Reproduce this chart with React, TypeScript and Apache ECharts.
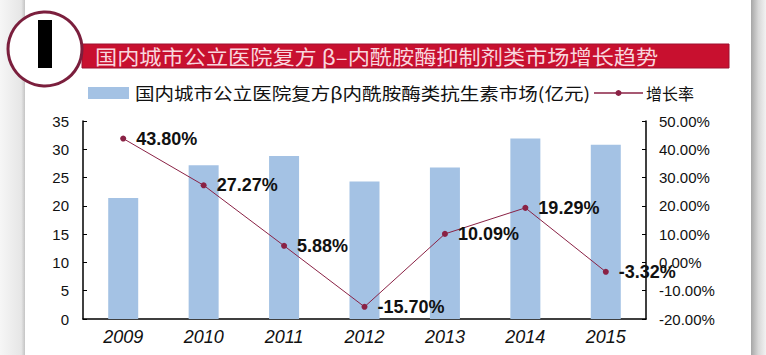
import React, { useEffect, useRef } from "react";
import * as echarts from "echarts";

const years = ["2009", "2010", "2011", "2012", "2013", "2014", "2015"];
const marketValues = [21.4, 27.2, 28.8, 24.3, 26.8, 31.9, 30.8];
const growthRates = [43.8, 27.27, 5.88, -15.7, 10.09, 19.29, -3.32];
const leftAxisRange = { min: 0, max: 35, interval: 5 };
const rightAxisRange = { min: -20, max: 50, interval: 10 };

const titleText = "国内城市公立医院复方 β–内酰胺酶抑制剂类市场增长趋势";
const barName = "国内城市公立医院复方β内酰胺酶类抗生素市场(亿元)";
const lineName = "增长率";

const LATIN = "'Liberation Sans', Arial, sans-serif";
const CJK = "'Noto Sans CJK SC', 'Noto Sans', sans-serif";
const BAR_COLOR = "#a4c2e4";
const LINE_COLOR = "#8a2245";

export default function App() {
  const ref = useRef<HTMLDivElement>(null);
  useEffect(() => {
    document.body.style.margin = "0";
    const chart = echarts.init(ref.current!, null, { renderer: "svg" });
    chart.setOption({
      animation: false,
      backgroundColor: "#ffffff",
      grid: { left: 83, right: 120, top: 121, bottom: 36 },
      xAxis: {
        type: "category",
        data: years,
        axisLine: { lineStyle: { color: "#000", width: 1.5 } },
        axisTick: { show: false },
        axisLabel: {
          fontFamily: LATIN,
          fontSize: 18,
          fontStyle: "italic",
          color: "#111",
          margin: 9,
        },
      },
      yAxis: [
        {
          type: "value",
          min: leftAxisRange.min,
          max: leftAxisRange.max,
          interval: leftAxisRange.interval,
          splitLine: { show: false },
          axisLine: { show: true, lineStyle: { color: "#000", width: 1.5 } },
          axisTick: { show: true, inside: true, length: 4, lineStyle: { color: "#000" } },
          axisLabel: { fontFamily: LATIN, fontSize: 15, color: "#111", margin: 14 },
        },
        {
          type: "value",
          min: rightAxisRange.min,
          max: rightAxisRange.max,
          interval: rightAxisRange.interval,
          splitLine: { show: false },
          axisLine: { show: true, lineStyle: { color: "#000", width: 1.5 } },
          axisTick: { show: true, inside: true, length: 4, lineStyle: { color: "#000" } },
          axisLabel: {
            fontFamily: LATIN,
            fontSize: 15,
            color: "#111",
            margin: 13,
            formatter: (v: number) => v.toFixed(2) + "%",
          },
        },
      ],
      series: [
        {
          name: barName,
          type: "bar",
          data: marketValues,
          barWidth: 30,
          itemStyle: { color: BAR_COLOR },
          yAxisIndex: 0,
        },
        {
          name: lineName,
          type: "line",
          data: growthRates,
          yAxisIndex: 1,
          symbol: "circle",
          symbolSize: 6,
          lineStyle: { color: LINE_COLOR, width: 1 },
          itemStyle: { color: LINE_COLOR },
          label: {
            show: true,
            position: "right",
            distance: 10,
            fontFamily: LATIN,
            fontSize: 18,
            fontWeight: "bold",
            color: "#111",
            formatter: (p: any) => Number(p.value).toFixed(2) + "%",
          },
          z: 5,
        },
      ],
      graphic: [
        {
          type: "rect",
          shape: { x: 0, y: 0, width: 25, height: 355 },
          style: {
            fill: new echarts.graphic.LinearGradient(0, 0, 1, 0, [
              { offset: 0, color: "#f6f6f6" },
              { offset: 0.85, color: "#e6e6e6" },
              { offset: 1, color: "#c4c4c4" },
            ]),
          },
          silent: true,
        },
        {
          type: "rect",
          shape: { x: 751, y: 0, width: 15, height: 355 },
          style: {
            fill: new echarts.graphic.LinearGradient(0, 0, 1, 0, [
              { offset: 0, color: "#a6a6a6" },
              { offset: 0.5, color: "#d8d8d8" },
              { offset: 1, color: "#f2f2f2" },
            ]),
          },
          silent: true,
        },
        {
          type: "rect",
          shape: { x: 82, y: 44, width: 647, height: 24 },
          style: { fill: "#c8102f", stroke: "#9e1030", lineWidth: 1 },
          silent: true,
        },
        {
          type: "text",
          x: 95,
          y: 56,
          scaleX: 1.11,
          style: {
            text: titleText,
            fontFamily: CJK,
            fontSize: 20,
            fill: "#f8d6de",
            textAlign: "left",
            textVerticalAlign: "middle",
          },
          silent: true,
        },
        {
          type: "circle",
          shape: { cx: 45, cy: 49, r: 37 },
          style: { fill: "#ffffff", stroke: "#7b1f3d", lineWidth: 3 },
          silent: true,
        },
        {
          type: "rect",
          shape: { x: 38, y: 20, width: 14, height: 48 },
          style: { fill: "#000000" },
          silent: true,
        },
        {
          type: "rect",
          shape: { x: 88, y: 87, width: 41, height: 12 },
          style: { fill: BAR_COLOR },
          silent: true,
        },
        {
          type: "text",
          x: 135,
          y: 93,
          scaleX: 1.15,
          style: {
            text: barName,
            fontFamily: CJK,
            fontSize: 17,
            fill: "#111",
            textAlign: "left",
            textVerticalAlign: "middle",
          },
          silent: true,
        },
        {
          type: "line",
          shape: { x1: 594, y1: 93, x2: 643, y2: 93 },
          style: { stroke: LINE_COLOR, lineWidth: 1.5 },
          silent: true,
        },
        {
          type: "circle",
          shape: { cx: 618.5, cy: 93, r: 3 },
          style: { fill: LINE_COLOR },
          silent: true,
        },
        {
          type: "text",
          x: 646,
          y: 93,
          style: {
            text: lineName,
            fontFamily: CJK,
            fontSize: 16,
            fill: "#111",
            textAlign: "left",
            textVerticalAlign: "middle",
          },
          silent: true,
        },
      ],
    });
    return () => chart.dispose();
  }, []);
  return (
    <div
      ref={ref}
      style={{ position: "fixed", left: 0, top: 0, width: 766, height: 355 }}
    />
  );
}
